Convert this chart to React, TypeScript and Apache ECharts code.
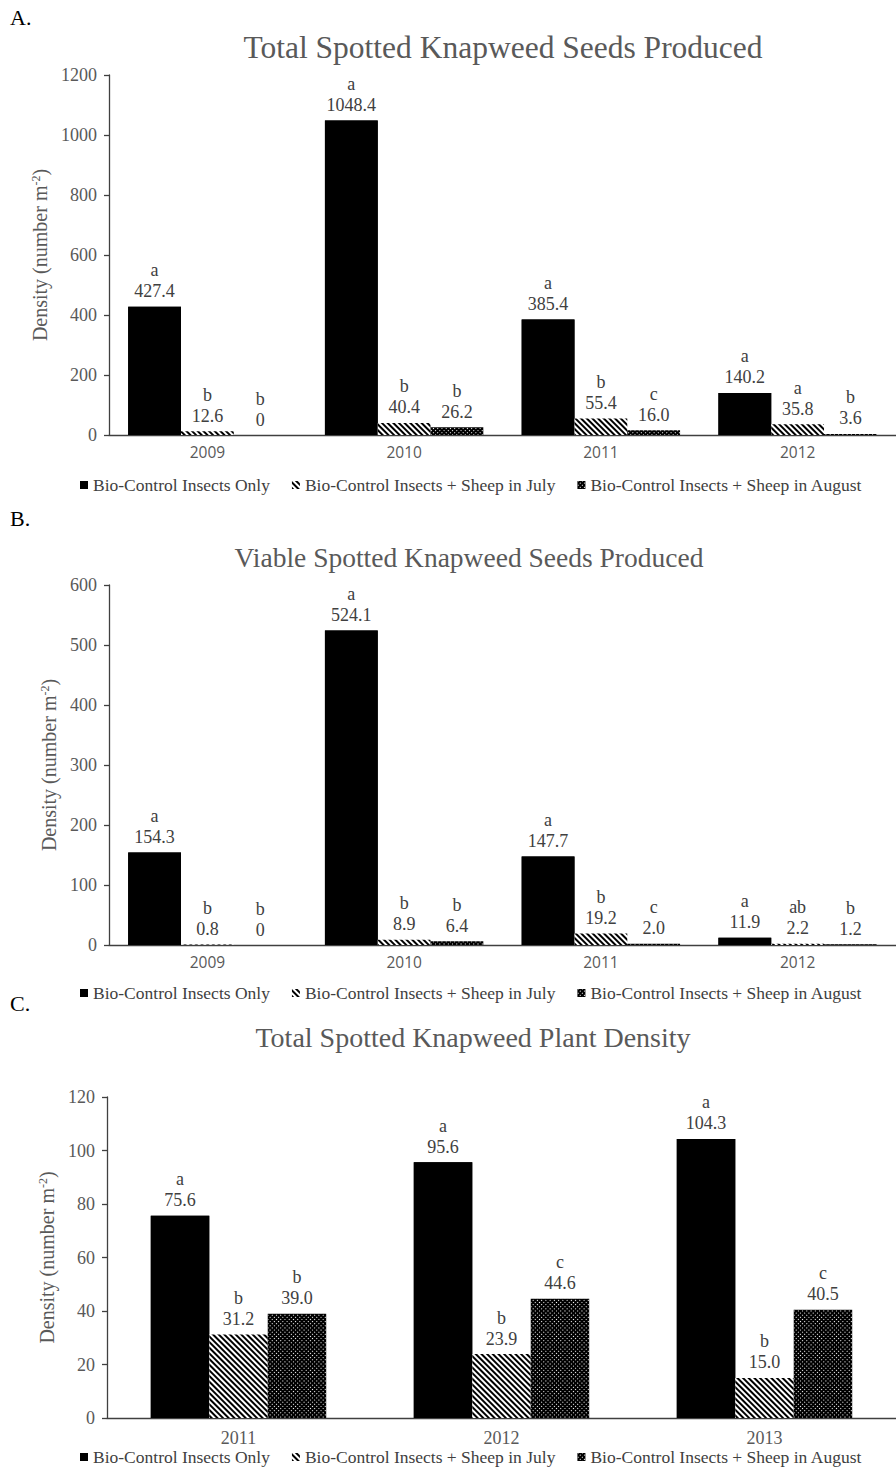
import { useEffect, useRef } from 'react';
import * as echarts from 'echarts';

const seriesNames = [
  'Bio-Control Insects Only',
  'Bio-Control Insects + Sheep in July',
  'Bio-Control Insects + Sheep in August',
];

// Panel A: Total Spotted Knapweed Seeds Produced
const yearsA = ['2009', '2010', '2011', '2012'];
const totalSeedsOnly = [427.4, 1048.4, 385.4, 140.2];
const totalSeedsJuly = [12.6, 40.4, 55.4, 35.8];
const totalSeedsAug = [0, 26.2, 16.0, 3.6];
const totalSeedsLettersOnly = ['a', 'a', 'a', 'a'];
const totalSeedsLettersJuly = ['b', 'b', 'b', 'a'];
const totalSeedsLettersAug = ['b', 'b', 'c', 'b'];

// Panel B: Viable Spotted Knapweed Seeds Produced
const yearsB = ['2009', '2010', '2011', '2012'];
const viableOnly = [154.3, 524.1, 147.7, 11.9];
const viableJuly = [0.8, 8.9, 19.2, 2.2];
const viableAug = [0, 6.4, 2.0, 1.2];
const viableLettersOnly = ['a', 'a', 'a', 'a'];
const viableLettersJuly = ['b', 'b', 'b', 'ab'];
const viableLettersAug = ['b', 'b', 'c', 'b'];

// Panel C: Total Spotted Knapweed Plant Density
const yearsC = ['2011', '2012', '2013'];
const densityOnly = [75.6, 95.6, 104.3];
const densityJuly = [31.2, 23.9, 15.0];
const densityAug = [39.0, 44.6, 40.5];
const densityLettersOnly = ['a', 'a', 'a'];
const densityLettersJuly = ['b', 'b', 'b'];
const densityLettersAug = ['b', 'c', 'c'];

const SERIF = 'Liberation Serif';
const SANS = 'Open Sans';

const solidDecal = {
  symbol: 'rect',
  symbolSize: 1,
  color: '#000',
  dashArrayX: [1, 0],
  dashArrayY: [1, 0],
};
const hatchDecal = {
  symbol: 'rect',
  symbolSize: 1,
  color: '#000',
  dashArrayX: [1, 0],
  dashArrayY: [2, 2],
  rotation: Math.PI / 4,
};
const dotDecal = {
  symbol: 'rect',
  symbolSize: 1,
  color: '#fff',
  dashArrayX: [1, 2],
  dashArrayY: [1, 2],
};

const fmt = (v: number) => (v === 0 ? '0' : v.toFixed(1));

function makeSeries(idx: number, values: number[], letters: string[], kind: number, gap: string) {
  const decal = kind === 0 ? solidDecal : kind === 1 ? hatchDecal : dotDecal;
  return {
    type: 'bar',
    name: seriesNames[kind],
    xAxisIndex: idx,
    yAxisIndex: idx,
    data: values,
    barGap: '0%',
    barCategoryGap: gap,
    itemStyle: {
      color: kind === 1 ? '#fff' : '#000',
      decal,
    },
    label: {
      show: true,
      position: 'top',
      distance: 5,
      fontFamily: SERIF,
      fontSize: 18,
      lineHeight: 21,
      color: '#404040',
      formatter: (p: any) => `${letters[p.dataIndex]}\n${fmt(p.value)}`,
    },
  };
}

const yAxisBase = (max: number, interval: number, nameGap: number) => ({
  type: 'value',
  min: 0,
  max,
  interval,
  name: '{a|Density (number m}{s|-2}{a|)}',
  nameLocation: 'middle',
  nameGap,
  nameRotate: 90,
  nameTextStyle: {
    rich: {
      a: { fontFamily: SERIF, fontSize: 20, color: '#595959' },
      s: { fontFamily: SERIF, fontSize: 12, color: '#595959', verticalAlign: 'top', padding: [0, 0, 9, 0] },
    },
  },
  axisLine: { show: true, lineStyle: { color: '#404040', width: 1.3 } },
  axisTick: { show: true, inside: false, length: 5, lineStyle: { color: '#404040', width: 1.3 } },
  axisLabel: {
    fontFamily: SERIF,
    fontSize: 18,
    color: '#595959',
    margin: 12,
    formatter: (v: number) => String(v),
  },
  splitLine: { show: false },
});

const xAxisBase = (idx: number, data: string[], sans: boolean, margin: number) => ({
  type: 'category',
  gridIndex: idx,
  data,
  axisLine: { show: true, lineStyle: { color: '#404040', width: 1.3 } },
  axisTick: { show: false },
  axisLabel: {
    fontFamily: sans ? SANS : SERIF,
    fontSize: sans ? 15.5 : 18,
    color: '#595959',
    margin,
  },
});

export default function App() {
  const ref = useRef<HTMLDivElement>(null);
  useEffect(() => {
    if (!ref.current) return;
    const chart = echarts.init(ref.current, undefined, { renderer: 'svg' });
    const legendBase = (top: number) => ({
      top,
      left: 75,
      itemWidth: 8,
      itemHeight: 8,
      itemGap: 22,
      icon: 'rect',
      data: seriesNames,
      textStyle: { fontFamily: SERIF, fontSize: 17.5, lineHeight: 17, color: '#404040' },
    });
    const titleBase = (text: string, x: number, top: number, size: number) => ({
      text,
      left: x,
      top,
      textAlign: 'center',
      textStyle: { fontFamily: SERIF, fontSize: size, fontWeight: 'normal', color: '#595959' },
    });
    chart.setOption({
      animation: false,
      backgroundColor: '#fff',
      aria: { enabled: true, label: { enabled: false }, decal: { show: true } },
      title: [
        titleBase('Total Spotted Knapweed Seeds Produced', 498, 26, 31.5),
        titleBase('Viable Spotted Knapweed Seeds Produced', 464, 538, 27.5),
        titleBase('Total Spotted Knapweed Plant Density', 468, 1018, 28),
      ],
      graphic: [
        { type: 'text', left: 10, top: 6, style: { text: 'A.', fontFamily: SERIF, fontSize: 22, fill: '#000' } },
        { type: 'text', left: 10, top: 507, style: { text: 'B.', fontFamily: SERIF, fontSize: 22, fill: '#000' } },
        { type: 'text', left: 10, top: 992, style: { text: 'C.', fontFamily: SERIF, fontSize: 22, fill: '#000' } },
      ],
      legend: [legendBase(471), legendBase(979), legendBase(1443)],
      grid: [
        { left: 109, top: 75, width: 797, height: 360, containLabel: false },
        { left: 109, top: 585, width: 797, height: 360, containLabel: false },
        { left: 107, top: 1097, width: 798, height: 321, containLabel: false },
      ],
      xAxis: [
        xAxisBase(0, yearsA, true, 9),
        xAxisBase(1, yearsB, true, 9),
        xAxisBase(2, yearsC, false, 11),
      ],
      yAxis: [
        { ...yAxisBase(1200, 200, 45), gridIndex: 0 },
        { ...yAxisBase(600, 100, 45), gridIndex: 1 },
        { ...yAxisBase(120, 20, 43), gridIndex: 2 },
      ],
      series: [
        makeSeries(0, totalSeedsOnly, totalSeedsLettersOnly, 0, '19.5%'),
        makeSeries(0, totalSeedsJuly, totalSeedsLettersJuly, 1, '19.5%'),
        makeSeries(0, totalSeedsAug, totalSeedsLettersAug, 2, '19.5%'),
        makeSeries(1, viableOnly, viableLettersOnly, 0, '19.5%'),
        makeSeries(1, viableJuly, viableLettersJuly, 1, '19.5%'),
        makeSeries(1, viableAug, viableLettersAug, 2, '19.5%'),
        makeSeries(2, densityOnly, densityLettersOnly, 0, '33.3%'),
        makeSeries(2, densityJuly, densityLettersJuly, 1, '33.3%'),
        makeSeries(2, densityAug, densityLettersAug, 2, '33.3%'),
      ],
    });
    return () => chart.dispose();
  }, []);
  return (
    <div
      ref={ref}
      style={{ position: 'absolute', left: 0, top: 0, width: 896, height: 1470, background: '#fff' }}
    />
  );
}
